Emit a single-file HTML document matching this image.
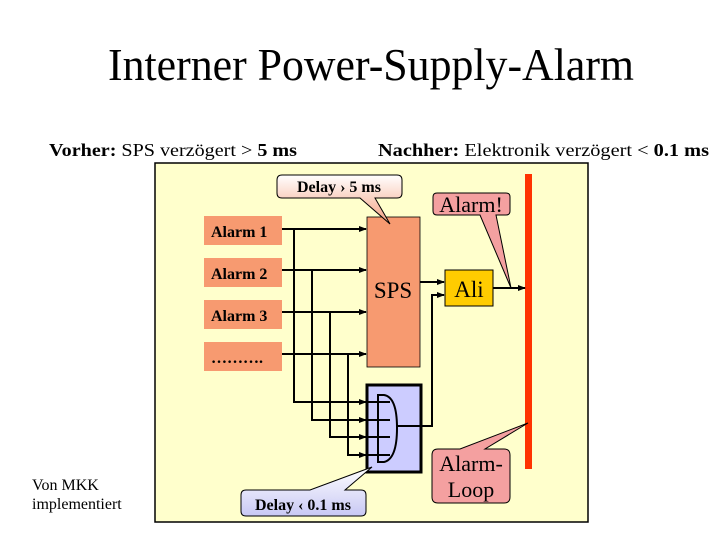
<!DOCTYPE html>
<html><head><meta charset="utf-8"><style>body{margin:0;background:#fff}svg{display:block}text{font-family:"Liberation Serif",serif}</style></head><body>
<svg width="720" height="540" viewBox="0 0 720 540" xmlns="http://www.w3.org/2000/svg">
<defs><marker id="a" markerWidth="8" markerHeight="8" refX="7" refY="4" orient="auto" markerUnits="userSpaceOnUse"><path d="M0,1 L8,4 L0,7z" fill="#000"/></marker>
<linearGradient id="g1" x1="0" y1="0" x2="0" y2="1"><stop offset="0" stop-color="#fff"/><stop offset="1" stop-color="#f4a080"/></linearGradient>
<linearGradient id="g2" x1="0" y1="0" x2="0" y2="1"><stop offset="0" stop-color="#fff"/><stop offset="1" stop-color="#c8c8f4"/></linearGradient></defs>
<text x="108" y="80" font-size="46" textLength="526" lengthAdjust="spacingAndGlyphs">Interner Power-Supply-Alarm</text>
<text x="49" y="156" font-size="18" textLength="248" lengthAdjust="spacingAndGlyphs"><tspan font-weight="bold">Vorher:</tspan> SPS verzögert &gt; <tspan font-weight="bold">5 ms</tspan></text>
<text x="378" y="156" font-size="18" textLength="331" lengthAdjust="spacingAndGlyphs"><tspan font-weight="bold">Nachher:</tspan> Elektronik verzögert  &lt; <tspan font-weight="bold">0.1 ms</tspan></text>
<rect x="155" y="163" width="433" height="359" fill="#ffffcc" stroke="#000" stroke-width="1.5"/>
<rect x="525" y="174" width="7" height="295" fill="#ff3300"/>
<g fill="#f79a70">
<rect x="204" y="216" width="78" height="29"/><rect x="204" y="258" width="78" height="29"/><rect x="204" y="300" width="78" height="29"/><rect x="204" y="342" width="78" height="29"/>
</g>
<g font-weight="bold" font-size="16" fill="#000">
<text x="211" y="237">Alarm 1</text><text x="211" y="279">Alarm 2</text><text x="211" y="321">Alarm 3</text><text x="211" y="363">……….</text></g>
<rect x="367" y="217" width="53" height="150" fill="#f79a70" stroke="#000" stroke-width="0.8"/>
<text x="393" y="298" font-size="23" text-anchor="middle">SPS</text>
<g stroke="#000" stroke-width="2" fill="none">
<line x1="282" y1="229" x2="366" y2="229" marker-end="url(#a)"/>
<line x1="282" y1="270" x2="366" y2="270" marker-end="url(#a)"/>
<line x1="282" y1="312" x2="366" y2="312" marker-end="url(#a)"/>
<line x1="282" y1="354" x2="366" y2="354" marker-end="url(#a)"/>
<polyline points="294,229 294,402 366,402" marker-end="url(#a)"/>
<polyline points="312,270 312,420 366,420" marker-end="url(#a)"/>
<polyline points="330,312 330,437 366,437" marker-end="url(#a)"/>
<polyline points="348,354 348,455 366,455" marker-end="url(#a)"/>
</g>
<rect x="367" y="385" width="54" height="87" fill="#ccccff" stroke="#000" stroke-width="3"/>
<g stroke="#000" stroke-width="2" fill="none">
<line x1="366" y1="402" x2="390" y2="402"/><line x1="366" y1="420" x2="390" y2="420"/><line x1="366" y1="437" x2="390" y2="437"/><line x1="366" y1="455" x2="390" y2="455"/>
<path d="M378,395 L384,395 Q397,397 397,428 Q397,459 384,462 L378,462 Z"/>
<polyline points="397,426 432,426 432,295 444,295" marker-end="url(#a)"/>
<line x1="420" y1="282" x2="444" y2="282" marker-end="url(#a)"/>
<line x1="493" y1="288" x2="525" y2="288" marker-end="url(#a)"/>
</g>
<rect x="445" y="270" width="48" height="36" fill="#ffcc00" stroke="#000"/>
<text x="469" y="297" font-size="23" text-anchor="middle">Ali</text>
<path d="M282,175 H397 Q402,175 402,180 V193 Q402,198 397,198 H375 L390,224 L360,198 H282 Q277,198 277,193 V180 Q277,175 282,175Z" fill="url(#g1)" stroke="#000"/>
<text x="339" y="192" font-size="16" font-weight="bold" text-anchor="middle">Delay › 5 ms</text>
<path d="M437,193 H506 Q510,193 510,197 V211 Q510,215 506,215 H496 L511,288 L480,215 H437 Q433,215 433,211 V197 Q433,193 437,193Z" fill="#f4a0a0" stroke="#000"/>
<text x="471" y="212" font-size="22" text-anchor="middle">Alarm!</text>
<path d="M438,449 H460 L528,423 L485,449 H504 Q510,449 510,455 V497 Q510,503 504,503 H438 Q432,503 432,497 V455 Q432,449 438,449Z" fill="#f4a0a0" stroke="#000"/>
<text x="471" y="471" font-size="22" text-anchor="middle">Alarm-</text>
<text x="471" y="497" font-size="22" text-anchor="middle">Loop</text>
<path d="M246,490 H310 L372,467 L345,490 H361 Q366,490 366,495 V511 Q366,516 361,516 H246 Q241,516 241,511 V495 Q241,490 246,490Z" fill="url(#g2)" stroke="#000"/>
<text x="303" y="510" font-size="16" font-weight="bold" text-anchor="middle">Delay ‹ 0.1 ms</text>
<text x="32" y="490" font-size="16">Von MKK</text>
<text x="32" y="509" font-size="16">implementiert</text>
</svg>
</body></html>
